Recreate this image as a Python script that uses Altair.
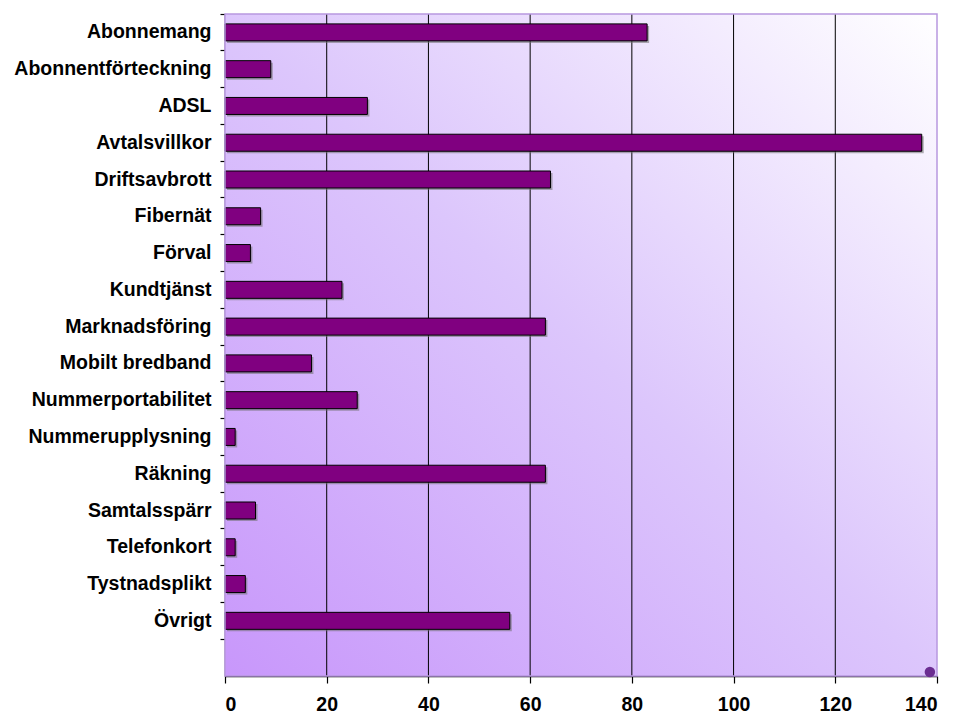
import altair as alt
import pandas as pd

categories = ["Abonnemang", "Abonnentförteckning", "ADSL", "Avtalsvillkor", "Driftsavbrott",
              "Fibernät", "Förval", "Kundtjänst", "Marknadsföring", "Mobilt bredband",
              "Nummerportabilitet", "Nummerupplysning", "Räkning", "Samtalsspärr",
              "Telefonkort", "Tystnadsplikt", "Övrigt"]
values = [83, 9, 28, 137, 64, 7, 5, 23, 63, 17, 26, 2, 63, 6, 2, 4, 56]
x_ticks = [0, 20, 40, 60, 80, 100, 120, 140]
grid_values = [20, 40, 60, 80, 100, 120]
dot_value = [138.6]

domain = categories + [" "]
df = pd.DataFrame({"cat": categories, "val": values})
grid_df = pd.DataFrame({"g": grid_values})
dot_df = pd.DataFrame({"d": dot_value})

W, H = 712, 662
FONT = "Liberation Sans"

xscale = alt.Scale(domain=[0, 140], nice=False, zero=True)
yscale = alt.Scale(domain=domain, paddingInner=0, paddingOuter=0)

bg = alt.Chart(pd.DataFrame({"a": [0]})).mark_rect(
    color=alt.LinearGradient(
        gradient="linear", x1=0, y1=1, x2=1, y2=0,
        stops=[alt.GradientStop(offset=0, color="#c897fb"),
               alt.GradientStop(offset=0.5, color="#dcc6fc"),
               alt.GradientStop(offset=1, color="#ffffff")]
    )
).encode(x=alt.value(0), x2=alt.value(W), y=alt.value(0), y2=alt.value(H))

border = alt.Chart(pd.DataFrame({"a": [0]})).mark_rect(
    fill=None, stroke="#b898e0", strokeWidth=1.5
).encode(x=alt.value(0), x2=alt.value(W), y=alt.value(0), y2=alt.value(H))

grid = alt.Chart(grid_df).mark_rule(color="black", strokeWidth=1).encode(
    x=alt.X("g:Q", scale=xscale)
)

shadow = alt.Chart(df).mark_bar(size=17, color="#707070", opacity=0.55,
                                xOffset=2, yOffset=2).encode(
    x=alt.X("val:Q", scale=xscale),
    y=alt.Y("cat:N", scale=yscale, sort=domain),
)

bars = alt.Chart(df).mark_bar(size=17, fill="#800080", stroke="black", strokeWidth=1).encode(
    x=alt.X("val:Q", scale=xscale, title=None,
            axis=alt.Axis(values=x_ticks, grid=False, domainColor="black", domainWidth=1.5,
                          tickColor="black", tickSize=7, tickWidth=1.2,
                          labelFont=FONT, labelFontSize=19.5, labelFontWeight="bold",
                          labelColor="black", labelPadding=12)),
    y=alt.Y("cat:N", scale=yscale, sort=domain, title=None,
            axis=alt.Axis(bandPosition=0, domainColor="black", domainWidth=1.5,
                          tickColor="black", tickSize=5, tickWidth=1.2,
                          labelFont=FONT, labelFontSize=19.5, labelFontWeight="bold",
                          labelColor="black", labelPadding=9, labelBaseline="middle",
                          labelLimit=300)),
)

dot = alt.Chart(dot_df).mark_point(filled=True, color="#6b2d91", size=110, opacity=1).encode(
    x=alt.X("d:Q", scale=xscale), y=alt.value(H - 4)
)

chart = alt.layer(bg, grid, shadow, bars, border, dot).properties(
    width=W, height=H,
    autosize=alt.AutoSizeParams(type="none"),
    padding={"left": 217, "top": 6, "right": 13, "bottom": 40},
).configure_view(stroke=None)

chart.save("out.html", embed_options={"renderer": "svg", "actions": False})
